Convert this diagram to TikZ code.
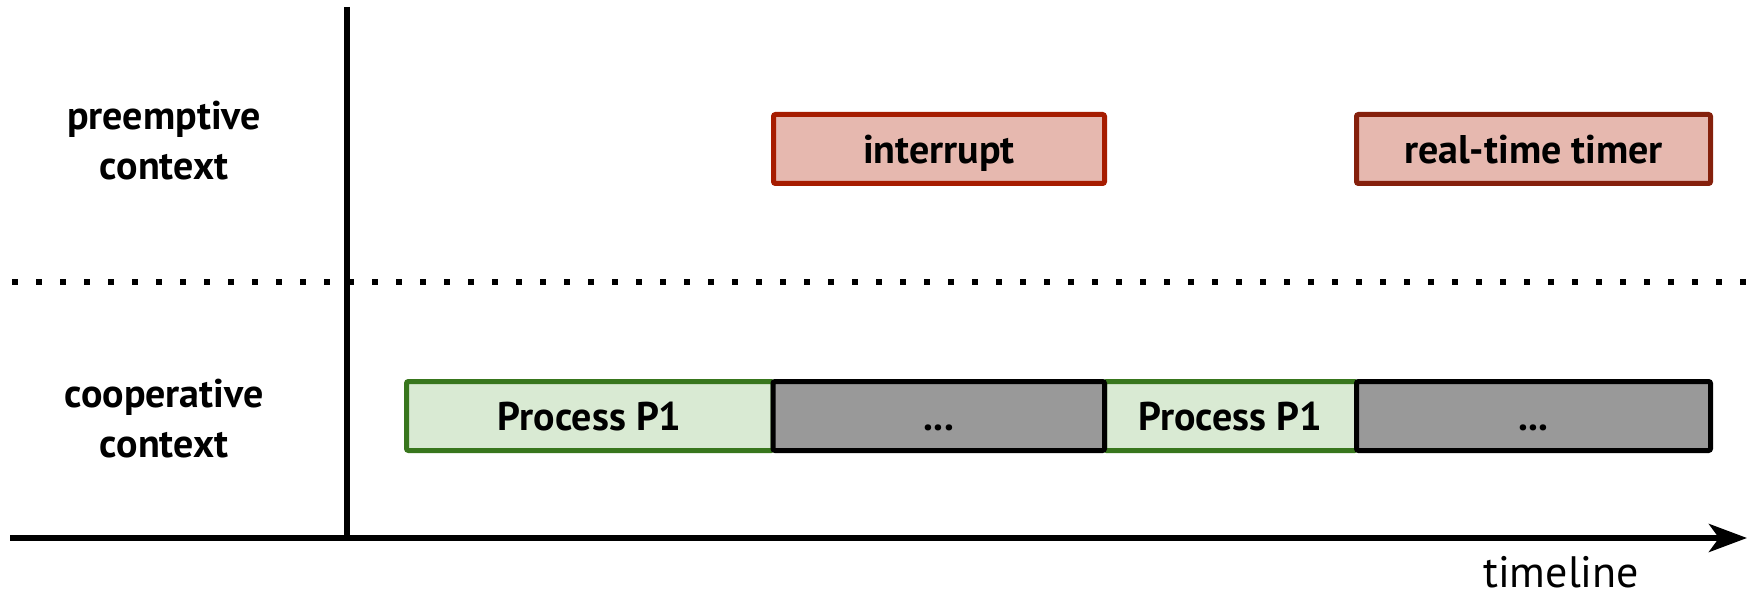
\documentclass[tikz,border=0pt]{standalone}
\usepackage{fontspec}
\setmainfont{PT Sans}
\usetikzlibrary{arrows.meta}
\definecolor{redA}{HTML}{A61C00}
\definecolor{redB}{HTML}{85200C}
\definecolor{redFill}{HTML}{E6B8AF}
\definecolor{grnLine}{HTML}{38761D}
\definecolor{grnFill}{HTML}{D9EAD3}
\definecolor{grayFill}{HTML}{999999}
\tikzset{
  lbl/.style={font=\fontsize{40}{50}\selectfont\bfseries, align=center, inner sep=0pt},
  box/.style={line width=5pt, rounded corners=2pt, inner sep=0pt,
    font=\fontsize{40}{50}\selectfont\bfseries, text height=29pt, text depth=0pt,
    minimum height=69pt},
  redbox/.style={box, draw=redA, fill=redFill},
  greenbox/.style={box, draw=grnLine, fill=grnFill},
  graybox/.style={box, draw=black, fill=grayFill},
}
\begin{document}
\begin{tikzpicture}[x=1pt,y=-1pt]
\useasboundingbox (0,0) rectangle (1750,593);
% separators
\coordinate (dotL) at (12,282);
\coordinate (dotR) at (1750,282);
\draw[line width=6pt, dash pattern=on 6pt off 18pt] (dotL) -- (dotR);
\coordinate (vtop) at (347,7);
\coordinate (vbot) at (347,541);
\draw[line width=6pt] (vtop) -- (vbot);
\coordinate (axL) at (10,538);
\coordinate (axR) at (1747,538);
\draw[line width=6pt, -{Stealth[length=38pt, width=28pt, inset=10pt]}] (axL) -- (axR);
% labels
\node[lbl, anchor=base] (pre) at (164,180) {preemptive\\context};
\node[lbl, anchor=base] (coop) at (164,457) {cooperative\\context};
\node[font=\fontsize{44}{50}\selectfont, anchor=base west, inner sep=0pt] (tl) at (1483,587) {timeline};
% top row
\node[redbox, minimum width=331pt] (intr) at (939,149) {interrupt};
\node[redbox, draw=redB, minimum width=354pt] (rtt) at (1533.5,149) {real-time timer};
% bottom row
\node[greenbox, minimum width=366.5pt] (p1a) at (589.75,416) {Process P1};
\node[greenbox, minimum width=252pt] (p1b) at (1230.5,416) {Process P1};
\node[graybox, minimum width=331.5pt] (g1) at (938.75,416) {...};
\node[graybox, minimum width=354pt] (g2) at (1533.5,416) {...};
\end{tikzpicture}
\end{document}
